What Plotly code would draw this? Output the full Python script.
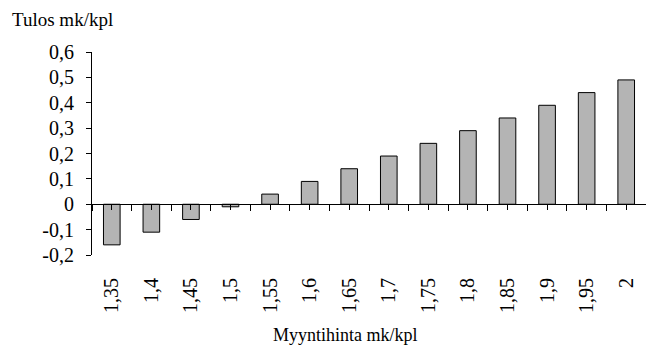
import plotly.graph_objects as go

# Selling price per unit (mk/kpl) and resulting profit per unit (mk/kpl)
prices = ["1,35", "1,4", "1,45", "1,5", "1,55", "1,6", "1,65",
          "1,7", "1,75", "1,8", "1,85", "1,9", "1,95", "2"]
profit = [-0.16, -0.11, -0.06, -0.01, 0.04, 0.09, 0.14,
          0.19, 0.24, 0.29, 0.34, 0.39, 0.44, 0.49]

y_ticks = [-0.2, -0.1, 0, 0.1, 0.2, 0.3, 0.4, 0.5, 0.6]
y_ticktext = [("%.1f" % v).replace(".", ",") if v != 0 else "0" for v in y_ticks]

FONT = "Liberation Serif, Times New Roman, serif"
idx = list(range(len(prices)))
xrange_ = [-0.5, len(prices) - 0.5]

fig = go.Figure()
fig.add_trace(go.Bar(
    x=idx, y=profit,
    marker=dict(color="#b4b4b4", line=dict(color="black", width=1)),
    width=0.42,
    showlegend=False, hoverinfo="x+y",
))
# helper trace so the zero-line axis is drawn
fig.add_trace(go.Scatter(x=[], y=[], xaxis="x2", yaxis="y", showlegend=False))

fig.update_layout(
    width=646, height=349,
    margin=dict(l=92, r=0, t=52, b=94),
    paper_bgcolor="white", plot_bgcolor="white",
    font=dict(family=FONT, size=19, color="black"),
    xaxis=dict(
        range=xrange_, tickmode="array", tickvals=idx, ticktext=prices,
        tickangle=-90, ticks="", showline=False, showgrid=False, zeroline=False,
        ticklabelstandoff=18, tickfont=dict(size=20),
    ),
    xaxis2=dict(
        range=xrange_, overlaying="x", anchor="free", position=0.25,
        showline=True, linecolor="black", linewidth=1,
        tickmode="array", tickvals=idx, ticks="outside", ticklen=5,
        tickcolor="black", tickwidth=1, showticklabels=False,
        showgrid=False, zeroline=False,
        minor=dict(tickmode="linear", tick0=0.5, dtick=1, ticks="outside",
                   ticklen=6, tickcolor="black", tickwidth=1, showgrid=False),
    ),
    yaxis=dict(
        range=[-0.2, 0.6], tickmode="array", tickvals=y_ticks, ticktext=y_ticktext,
        ticks="outside", ticklen=5, tickcolor="black", tickwidth=1,
        showline=True, linecolor="black", linewidth=1,
        showgrid=False, zeroline=False, ticklabelstandoff=8,
        tickfont=dict(size=20),
    ),
    annotations=[
        dict(text="Tulos mk/kpl", xref="paper", yref="paper",
             x=-82 / 554, y=1 + 32 / 203, xanchor="left", yanchor="middle",
             showarrow=False, font=dict(size=19)),
        dict(text="Myyntihinta mk/kpl", xref="paper", yref="paper",
             x=(345 - 92) / 554, y=-80 / 203, xanchor="center", yanchor="middle",
             showarrow=False, font=dict(size=18)),
    ],
)

fig.write_html("out.html")
